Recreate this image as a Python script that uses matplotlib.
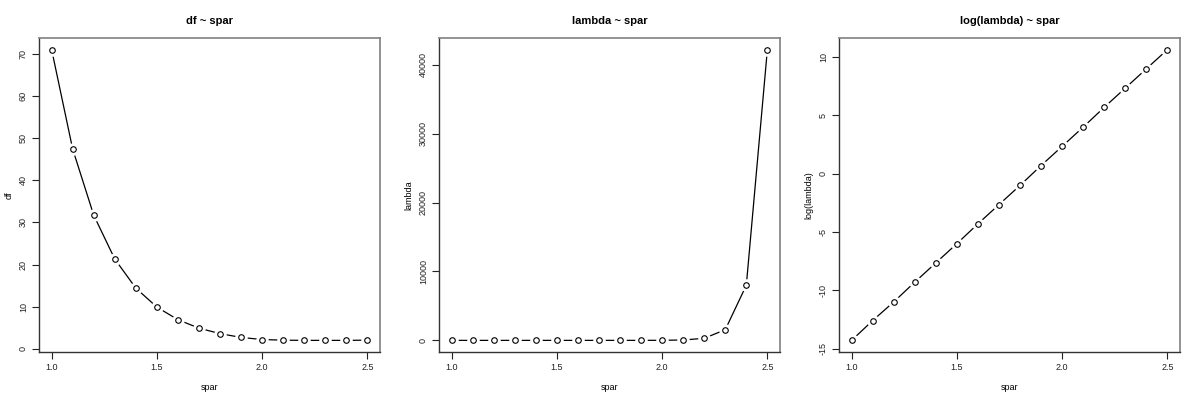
import matplotlib.pyplot as plt

# smoothing parameter grid and values
spar = [1.0, 1.1, 1.2, 1.3, 1.4, 1.5, 1.6, 1.7, 1.8, 1.9, 2.0, 2.1, 2.2, 2.3, 2.4, 2.5]
df = [71.0, 47.4, 31.7, 21.3, 14.4, 9.9, 6.9, 4.9, 3.6, 2.7, 2.2, 2.05, 2.0, 2.0, 2.0, 2.05]
lam = [6e-7, 3e-6, 1.7e-5, 9e-5, 5e-4, 2.5e-3, 0.0136, 0.07, 0.37, 2.0, 10.5, 55, 300, 1550, 8000, 42200]
log_lam = [-14.3, -12.6, -11.0, -9.3, -7.65, -6.0, -4.3, -2.65, -1.0, 0.7, 2.35, 4.0, 5.7, 7.35, 9.0, 10.65]

panels = [
    ('df ~ spar', 'df', df, [0, 10, 20, 30, 40, 50, 60, 70]),
    ('lambda ~ spar', 'lambda', lam, [0, 10000, 20000, 30000, 40000]),
    ('log(lambda) ~ spar', 'log(lambda)', log_lam, [-15, -10, -5, 0, 5, 10]),
]
lefts = [39, 439, 839]

fig = plt.figure(figsize=(12, 4), dpi=100)
plt.rcParams['font.family'] = ['Liberation Sans', 'DejaVu Sans']

for (title, ylab, y, yticks), left in zip(panels, lefts):
    ax = fig.add_axes([left / 1200, 48 / 400, 341 / 1200, 314 / 400])
    # R type="b": line with gaps around the open circles
    ax.plot(spar, y, color='black', lw=0.9, zorder=1)
    ax.plot(spar, y, 'o', ms=8, color='white', zorder=2)
    ax.plot(spar, y, 'o', ms=4.0, mfc='white', mec='black', mew=0.8, zorder=3)

    rng = max(y) - min(y)
    ax.set_ylim(min(y) - 0.04 * rng, max(y) + 0.04 * rng)
    ax.set_xlim(1.0 - 0.06, 2.5 + 0.06)
    ax.set_xticks([1.0, 1.5, 2.0, 2.5])
    ax.set_xticklabels(['1.0', '1.5', '2.0', '2.5'])
    ax.set_yticks(yticks)
    ax.set_yticklabels([str(t) for t in yticks], rotation=90, va='center')
    ax.tick_params(labelsize=6.5, length=5, width=0.8, pad=3, colors='#222222')

    for side in ['top', 'right']:
        ax.spines[side].set_color('#808080')
        ax.spines[side].set_linewidth(1.2)
    for side in ['left', 'bottom']:
        ax.spines[side].set_color('#333333')
        ax.spines[side].set_linewidth(1.0)

    ax.set_title(title, fontsize=8, fontweight='bold', pad=10)
    ax.set_xlabel('spar', fontsize=6.5, labelpad=8)
    ax.set_ylabel(ylab, fontsize=6.5, labelpad=4)

fig.savefig('out.png', dpi=100)
